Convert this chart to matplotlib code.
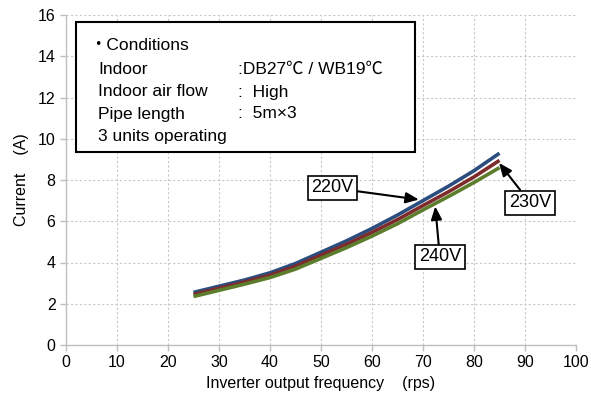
import matplotlib
matplotlib.use("Agg")
import matplotlib.pyplot as plt
from matplotlib.patches import Rectangle

plt.rcParams['font.family'] = ['Liberation Sans', 'Noto Sans CJK JP', 'DejaVu Sans']

freq = [25, 30, 35, 40, 45, 50, 55, 60, 65, 70, 75, 80, 85]
current_220 = [2.55, 2.85, 3.15, 3.5, 3.95, 4.5, 5.05, 5.65, 6.3, 7.0, 7.7, 8.45, 9.3]
current_230 = [2.45, 2.75, 3.05, 3.38, 3.82, 4.35, 4.88, 5.46, 6.08, 6.76, 7.43, 8.15, 8.95]
current_240 = [2.35, 2.65, 2.95, 3.27, 3.68, 4.2, 4.72, 5.28, 5.88, 6.55, 7.2, 7.88, 8.6]

x_ticks = [0, 10, 20, 30, 40, 50, 60, 70, 80, 90, 100]
y_ticks = [0, 2, 4, 6, 8, 10, 12, 14, 16]

cond_labels = ["Indoor", "Indoor air flow", "Pipe length", "3 units operating"]
cond_values = [":DB27℃ / WB19℃", ":  High", ":  5m\u00d73", ""]

fig = plt.figure(figsize=(5.91, 4.01), dpi=100)
ax = fig.add_axes([66/591, 1-345/401, 510/591, 330/401])

ax.plot(freq, current_220, color='#2B4D7E', lw=2.6, solid_capstyle='butt', zorder=3)
ax.plot(freq, current_230, color='#7E2B2B', lw=2.6, solid_capstyle='butt', zorder=3)
ax.plot(freq, current_240, color='#5B7D2C', lw=2.6, solid_capstyle='butt', zorder=3)

ax.set_xlim(0, 100)
ax.set_ylim(0, 16)
ax.set_xticks(x_ticks)
ax.set_yticks(y_ticks)
ax.tick_params(labelsize=11.5, colors='#BFBFBF', labelcolor='black', length=4, width=1)
ax.grid(True, color='#C8C8C8', linestyle=(0, (2, 2)), lw=0.8)
ax.set_axisbelow(True)
for s in ax.spines.values():
    s.set_color('#BFBFBF')
    s.set_linewidth(1)
ax.spines['top'].set_visible(False)
ax.spines['right'].set_visible(False)

ax.set_xlabel("Inverter output frequency    (rps)", fontsize=11.5, labelpad=4)
ax.set_ylabel("Current    (A)", fontsize=11.5, labelpad=6)

# conditions box
ax.add_patch(Rectangle((10/510, 193/330), 339/510, 130/330, transform=ax.transAxes,
                       facecolor='white', edgecolor='black', lw=1.5, zorder=5))
ax.text(23/510, (345-49.5)/330, "\u30fbConditions", transform=ax.transAxes, fontsize=12.5,
        va='baseline', ha='left', zorder=6)
ys = [73.5, 96.5, 118.5, 141.5]
for lab, val, yy in zip(cond_labels, cond_values, ys):
    ax.text(32/510, (345-yy)/330, lab, transform=ax.transAxes, fontsize=12.5,
            va='baseline', ha='left', zorder=6)
    if val:
        ax.text(172/510, (345-yy)/330, val, transform=ax.transAxes, fontsize=12.5,
                va='baseline', ha='left', zorder=6)

bbox = dict(boxstyle='square,pad=0.2', facecolor='white', edgecolor='black', lw=1.2)
arrow = dict(arrowstyle='-|>,head_length=0.6,head_width=0.25', color='black', lw=1.5,
             shrinkA=0, shrinkB=0)
ax.annotate("220V", xy=(69.2, 7.05), xytext=(52.2, 7.62), fontsize=13, ha='center',
            va='center', bbox=bbox, arrowprops=arrow, zorder=7)
ax.annotate("230V", xy=(84.9, 8.83), xytext=(91.0, 6.9), fontsize=13, ha='center',
            va='center', bbox=bbox, arrowprops=arrow, zorder=7)
ax.annotate("240V", xy=(72.4, 6.72), xytext=(73.3, 4.27), fontsize=13, ha='center',
            va='center', bbox=bbox, arrowprops=arrow, zorder=7)

fig.savefig("out.png", dpi=100)
